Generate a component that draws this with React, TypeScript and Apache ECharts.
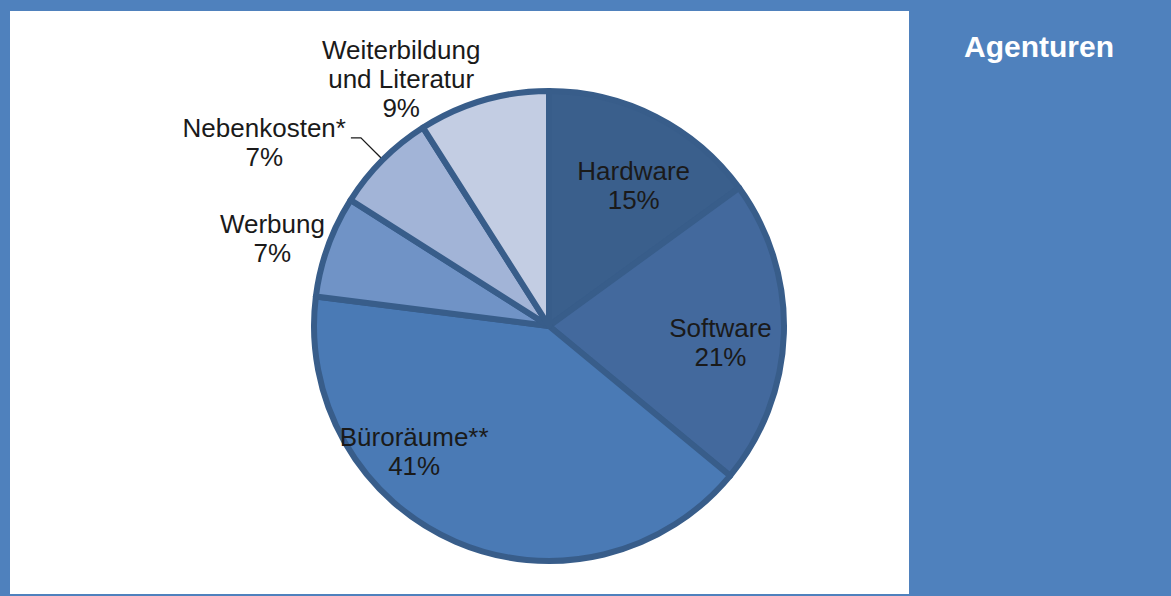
import React, { useEffect, useRef } from "react";
import * as echarts from "echarts";

const categories = [
  "Hardware",
  "Software",
  "Büroräume**",
  "Werbung",
  "Nebenkosten*",
  "Weiterbildung\nund Literatur",
];
const shares = [15, 21, 41, 7, 7, 9];
const sliceColors = ["#3a5f8c", "#43699d", "#4a7ab5", "#7093c6", "#a2b4d7", "#c3cde3"];
const labelPlacement = ["inside", "inside", "inside", "outside", "outside", "outside"];
const showLeader = [false, false, false, false, true, false];
const leaderLength = [0, 0, 0, 0, 31, 0];
const leaderLength2 = [0, 0, 0, 0, 10, 0];
const labelShiftX = [30, 51, -87, 2, 0, 2];
const labelShiftY = [-33, 13, 15, -8, 5, -21];
const panelTitle = "Agenturen";

export default function App() {
  const ref = useRef<HTMLDivElement>(null);
  useEffect(() => {
    if (!ref.current) return;
    const chart = echarts.init(ref.current, null, { renderer: "svg" });
    const font = "'Liberation Sans', Arial, sans-serif";
    chart.setOption({
      animation: false,
      backgroundColor: "transparent",
      graphic: [
        {
          type: "text",
          x: 1039,
          y: 46,
          style: {
            text: panelTitle,
            fill: "#ffffff",
            font: `bold 30px ${font}`,
            align: "center",
            verticalAlign: "middle",
          },
        },
      ],
      series: [
        {
          type: "pie",
          center: [549, 326],
          radius: 235,
          startAngle: 90,
          clockwise: true,
          avoidLabelOverlap: false,
          itemStyle: { borderColor: "#385d8a", borderWidth: 6 },
          emphasis: { disabled: true },
          label: {
            show: true,
            position: "outside",
            fontFamily: font,
            fontSize: 26,
            lineHeight: 29,
            color: "#1a1a1a",
            distanceToLabelLine: 5,
            formatter: (p: any) =>
              String(p.name)
                .split("\n")
                .concat([p.value + "%"])
                .map((s: string) => `{c|${s}}`)
                .join("\n"),
            rich: {
              c: {
                align: "center",
                fontFamily: font,
                fontSize: 26,
                lineHeight: 29,
                color: "#1a1a1a",
              },
            },
          },
          labelLine: {
            lineStyle: { color: "#1a1a1a", width: 1.3 },
          },
          labelLayout: (p: any) => ({
            dx: labelShiftX[p.dataIndex],
            dy: labelShiftY[p.dataIndex],
          }),
          data: categories.map((name, i) => ({
            name,
            value: shares[i],
            itemStyle: { color: sliceColors[i] },
            label: { position: labelPlacement[i] },
            labelLine: {
              show: showLeader[i],
              length: leaderLength[i],
              length2: leaderLength2[i],
            },
          })),
        },
      ],
    });
    return () => chart.dispose();
  }, []);

  return (
    <div
      style={{
        position: "fixed",
        left: 0,
        top: 0,
        width: 1171,
        height: 596,
        background: "#4f81bd",
      }}
    >
      <div
        style={{
          position: "absolute",
          left: 10,
          top: 11,
          width: 899,
          height: 583,
          background: "#ffffff",
        }}
      />
      <div
        ref={ref}
        style={{ position: "absolute", left: 0, top: 0, width: 1171, height: 596 }}
      />
    </div>
  );
}
